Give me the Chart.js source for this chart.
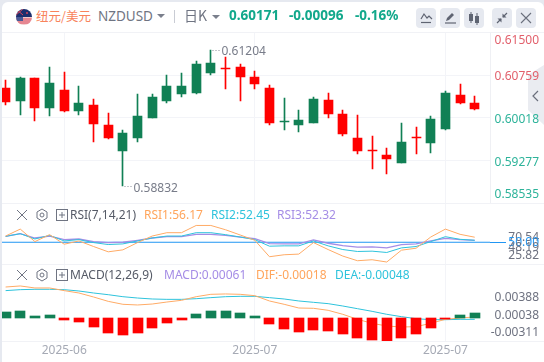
<!DOCTYPE html>
<html><head><meta charset="utf-8">
<script src="https://cdn.jsdelivr.net/npm/chart.js@4"></script>
<style>
html,body{margin:0;padding:0;width:544px;height:362px;overflow:hidden;background:#e6e9f0;font-family:"Noto Sans","Noto Sans CJK SC",sans-serif}
#panel{position:absolute;left:2px;top:2px;width:542px;height:360px;background:#fff;border-radius:6px 6px 0 0}
canvas{position:absolute;left:2px}
.t{position:absolute;white-space:nowrap;line-height:16px;font-size:12px}
.hl{position:absolute;left:2px;height:1px;background:#f1f2f6}
.btn{position:absolute;top:8px;width:20px;height:20px;background:#e6e9f0;border-radius:4px}
.btn svg,.ic{position:absolute;left:0;top:0}
</style></head><body>
<div id="panel"></div>
<svg style="position:absolute;left:528px;top:65px" width="16" height="60"><path d="M16 0L0 10V45L16 60z" fill="#eaecf1"/><path d="M10 26l-5 5 5 5" fill="none" stroke="#6a6f7c" stroke-width="1.2"/></svg>
<canvas id="cMain" width="537" height="172" style="top:32px;width:537px;height:172px"></canvas>
<canvas id="cRsi" width="537" height="60" style="top:204px;width:537px;height:60px"></canvas>
<canvas id="cMacd" width="537" height="98" style="top:264px;width:537px;height:98px"></canvas>
<div class="hl" style="top:32px;width:542px"></div>
<div class="hl" style="top:203px;width:542px"></div>
<div class="hl" style="top:264px;width:542px"></div>
<div class="hl" style="top:341px;width:542px"></div>

<svg style="position:absolute;left:15px;top:8px" width="18" height="18" viewBox="0 0 18 18">
<clipPath id="cp"><circle cx="9" cy="9" r="8"/></clipPath>
<g clip-path="url(#cp)"><rect width="18" height="9" fill="#1c2f6e"/><rect y="9" width="18" height="9" fill="#f3c9c9"/>
<path d="M1 11h16M1 13h16M1 15h16" stroke="#d9455a" stroke-width="1"/><rect y="9" width="8" height="4" fill="#4a5a96"/>
<circle cx="12" cy="5" r="1" fill="#d9455a"/><path d="M1 1l7 6M8 1L1 7" stroke="#d9455a" stroke-width="1"/></g></svg>
<div class="t" style="left:36px;top:8px;font-size:12.5px;color:#f8835c;font-family:'Noto Sans CJK SC'">纽元/美元</div>
<div class="t" style="left:98px;top:8px;font-size:13.5px;color:#6f7482">NZDUSD</div>
<svg style="position:absolute;left:157px;top:14px" width="8" height="5"><path d="M0 0h8L4 4z" fill="#7a7f8c"/></svg>
<div style="position:absolute;left:174px;top:10px;width:1px;height:13px;background:#c9ccd4"></div>
<div class="t" style="left:184px;top:7px;font-size:14px;color:#6f7482;font-family:'Noto Sans CJK SC'">日K</div>
<svg style="position:absolute;left:212px;top:15px" width="8" height="5"><path d="M0 0h8L4 4z" fill="#7a7f8c"/></svg>
<div class="t" style="left:229px;top:7px;font-size:13.5px;font-weight:700;color:#12a88b">0.60171</div>
<div class="t" style="left:289px;top:7px;font-size:13.5px;font-weight:700;color:#12a88b">-0.00096</div>
<div class="t" style="left:355px;top:7px;font-size:13.5px;font-weight:700;color:#12a88b">-0.16%</div>

<div class="btn" style="left:416px"><svg width="20" height="20" fill="none" stroke="#5f6472"><path d="M5 11l3-5 3 4 2-2 3 3" stroke-width="1.2"/><path d="M5 14.5h10" stroke-width="1.2"/></svg></div>
<div class="btn" style="left:440px"><svg width="20" height="20"><path d="M6 13l1-3 5-5 2 2-5 5z" fill="#5f6472"/><path d="M5 15h11" stroke="#5f6472" stroke-width="1.2"/></svg></div>
<div class="btn" style="left:464px"><svg width="20" height="20" fill="#5f6472"><rect x="5" y="6" width="4" height="7"/><rect x="11" y="8" width="4" height="7"/><path d="M7 4v11M13 5v12" stroke="#5f6472"/></svg></div>
<div class="btn" style="left:492px"><svg width="20" height="20" fill="#5f6472"><path d="M11 9l4-4M9 11l-4 4" stroke="#5f6472" stroke-width="1.2"/><path d="M10.5 5.5v4h4zM9.5 14.5v-4h-4z"/></svg></div>
<div class="btn" style="left:516px"><svg width="20" height="20"><path d="M5 5l10 10M15 5L5 15" stroke="#6a6f7c" stroke-width="1.1"/></svg></div>

<svg class="ic" style="position:absolute;left:16px;top:208px" width="54" height="14" fill="none" stroke="#6f7482"><path d="M1 2l10 10M11 2L1 12" stroke-width="1"/><path d="M26 1l5 3v6l-5 3-5-3V4z"/><circle cx="26" cy="7" r="2"/><rect x="40.5" y="1.5" width="11" height="11"/><path d="M46 4v6M43 7h6"/></svg>
<div class="t" style="left:70px;top:207px;color:#555a66">RSI(7,14,21)</div>
<div class="t" style="left:144px;top:207px;color:#ffa55c">RSI1:56.17</div>
<div class="t" style="left:211px;top:207px;color:#2ec3dc">RSI2:52.45</div>
<div class="t" style="left:277px;top:207px;color:#a58de6">RSI3:52.32</div>

<svg class="ic" style="position:absolute;left:16px;top:268px" width="54" height="14" fill="none" stroke="#6f7482"><path d="M1 2l10 10M11 2L1 12" stroke-width="1"/><path d="M26 1l5 3v6l-5 3-5-3V4z"/><circle cx="26" cy="7" r="2"/><rect x="40.5" y="1.5" width="11" height="11"/><path d="M46 4v6M43 7h6"/></svg>
<div class="t" style="left:70px;top:267px;color:#555a66">MACD(12,26,9)</div>
<div class="t" style="left:164px;top:267px;color:#a58de6">MACD:0.00061</div>
<div class="t" style="left:256px;top:267px;color:#ffa55c">DIF:-0.00018</div>
<div class="t" style="left:335px;top:267px;color:#2ec3dc">DEA:-0.00048</div>

<script>
const opens =[.60537,.60311,.60710,.60190,.60502,.60138,.60242,.59895,.59443,.59669,.60016,.60311,.60433,.60450,.60797,.60884,.60901,.60728,.60537,.59941,.59895,.59929,.60328,.60086,.59669,.59460,.59374,.59235,.59694,.59582,.59825,.60415,.60276];
const closes=[.60294,.60710,.60190,.60624,.60138,.60276,.59912,.59669,.59756,.60051,.60381,.60571,.60571,.60953,.60971,.60867,.60728,.60606,.59929,.59964,.59981,.60346,.60086,.59738,.59443,.59443,.59305,.59600,.59677,.59999,.60450,.60276,.60171];
const highs =[.60676,.60728,.60710,.60901,.60814,.60571,.60346,.60103,.59808,.60433,.60433,.60762,.60797,.61005,.61204,.61075,.60953,.60832,.60589,.60363,.60155,.60381,.60450,.60155,.60068,.59704,.59495,.59929,.59860,.60051,.60485,.60606,.60398];
const lows  =[.60242,.60068,.59969,.60051,.60120,.60068,.59600,.59652,.58832,.59600,.60016,.60276,.60381,.60433,.60762,.60519,.60311,.60519,.59895,.59808,.59773,.59929,.60016,.59704,.59391,.59131,.59044,.59235,.59391,.59409,.59808,.60259,.60155];
const rsi1=[57.6,66.1,50.8,59.3,47.6,51.6,44.8,38.3,40.7,49.6,57.6,61.7,61.7,70.54,70.54,65.3,58.9,52.4,32.3,34.7,35.5,49.6,41.1,33.1,27.4,28.6,25.82,40.3,42.7,56.4,66.1,59.7,56.17];
const rsi2=[57.2,60.5,54,58.4,51.6,53.2,49.6,47.2,48,51.6,55.2,57.6,57.6,61.7,61.7,59.3,56.4,53.2,45.2,45.6,45.6,51.6,45.6,41.1,38.7,39.1,37.5,43.1,44.8,50.8,56.8,53.6,52.45];
const rsi3=[57.2,60.5,55.2,57.6,53.2,54,50.8,49.6,50,52.4,55.2,56.8,56.8,59.7,59.7,58.5,56.4,54.4,48.4,48,48,52.8,48.8,46,44,44.4,43.1,47.2,48,51.6,54.8,53.2,52.32];
const rsiLevel=50;
const macdBars=[.00081,.00095,.00027,.00041,-.00027,-.00054,-.00122,-.00203,-.0023,-.00203,-.00135,-.00068,-.00027,.00054,.00095,.00095,.00068,.00027,-.00081,-.00149,-.00189,-.00162,-.00176,-.00216,-.0027,-.00297,-.00311,-.0027,-.00216,-.00135,-.00014,.00041,.00068];
const dif=[.00419,.00433,.00406,.00406,.0037,.00338,.00284,.00225,.00185,.00176,.00189,.00216,.00239,.00288,.0032,.00325,.0032,.00302,.0023,.00185,.00135,.00131,.00104,.0005,-.00018,-.00072,-.00108,-.00122,-.00117,-.00072,-.00018,0,.00014];
const dea=[.0037,.00383,.00388,.00388,.00383,.00365,.00338,.00315,.00288,.0027,.00257,.00252,.00252,.00261,.00275,.00288,.00293,.00293,.00275,.00257,.0023,.00212,.00194,.00162,.00126,.0009,.0005,.00018,-.00009,-.00023,-.00023,-.00018,-.00018];
const mainTicks=[.615,.60759,.60018,.59277,.58535];
const rsiTicks=[70.54,50,48.19,25.82];
const macdTicks=[.00388,.00038,-.00311];
const dateIndexes=[4,17,30];
const dateLabels=['2025-06','2025-07','2025-07'];

const UP='#118055',DOWN='#ff0000',GRID='#f3f4f8';
const XMIN=-0.2456,XMAX=33.042;
const FONT='"Noto Sans",sans-serif';
const idx=opens.map((_,i)=>i);
Chart.defaults.font.family=FONT;

function snapBars(oddWidth){return{id:'snap',afterDatasetsUpdate(c){
  c.data.datasets.forEach((d,i)=>{
    const m=c.getDatasetMeta(i);if(m.type!=='bar')return;
    m.data.forEach(el=>{el.x=oddWidth?Math.floor(el.x)+.5:Math.round(el.x);
      let y=Math.round(el.y),b=Math.round(el.base);if(y===b)b=y+1;el.y=y;el.base=b;el.height=b-y;});
  });}};}
function shiftLabels(shifts){return{id:'shift',beforeDraw(c){
  c.scales.y.getLabelItems().forEach((it,i)=>{if(!it._s){it.options.translation[1]+=shifts[i];it._s=1;}});}};}
const fitY=s=>{s.width=49;s.paddingTop=0;s.paddingBottom=0;};
const noPadX=(s,h)=>{s.height=h;s.paddingLeft=0;s.paddingRight=0;};
const xAxis=(extra)=>Object.assign({type:'linear',min:XMIN,max:XMAX,offset:false,
  afterBuildTicks:s=>{s.ticks=dateIndexes.map(v=>({value:v}));},
  grid:{color:GRID,drawTicks:false,offset:false},border:{display:false},
  ticks:{display:false},afterFit:s=>noPadX(s,0)},extra||{});
const base={responsive:false,animation:false,devicePixelRatio:1,plugins:{legend:{display:false},tooltip:{enabled:false}}};

const extremes={id:'extremes',afterDatasetsDraw(c){
  const ctx=c.ctx,x=c.scales.x,y=c.scales.y;
  const hi=highs.indexOf(Math.max(...highs)),lo=lows.indexOf(Math.min(...lows));
  [[hi,highs[hi],2],[lo,lows[lo],2]].forEach(([i,v,dy])=>{
    const px=Math.floor(x.getPixelForValue(i))+.5,py=y.getPixelForValue(v);
    ctx.save();ctx.strokeStyle='#8a8e9a';ctx.setLineDash([1,2]);ctx.beginPath();
    ctx.moveTo(px+2,Math.round(py)+.5);ctx.lineTo(px+10,Math.round(py)+.5);ctx.stroke();ctx.setLineDash([]);
    ctx.fillStyle='#787c89';ctx.font='12px '+FONT;ctx.textBaseline='middle';ctx.textAlign='left';
    ctx.fillText(v.toFixed(5),px+11,py+dy);ctx.restore();});
}};

new Chart(document.getElementById('cMain'),{type:'bar',
 data:{datasets:[
  {data:idx.map(i=>({x:i,y:[lows[i],highs[i]]})),barThickness:1,grouped:false,backgroundColor:idx.map(i=>closes[i]>opens[i]?UP:DOWN)},
  {data:idx.map(i=>({x:i,y:[opens[i],closes[i]]})),barThickness:9,grouped:false,backgroundColor:idx.map(i=>closes[i]>opens[i]?UP:DOWN)}
 ]},
 options:{...base,layout:{autoPadding:false,padding:{top:.5,bottom:.7,left:0,right:0}},scales:{x:xAxis(),
  y:{position:'right',min:.58535,max:.615,afterFit:fitY,
   afterBuildTicks:s=>{s.ticks=mainTicks.map(v=>({value:v}));},
   grid:{color:GRID,drawTicks:false},border:{color:'#eff0f4'},
   ticks:{autoSkip:false,padding:4,crossAlign:'far',font:{size:12},callback:v=>v.toFixed(5),
    color:c=>c.tick.value>.604?'#e2606c':'#2db39a'}}}},
 plugins:[snapBars(true),shiftLabels([8,1,2,2,-9]),extremes]});

const lineDs=(vals,color,w)=>({type:'line',data:idx.map(i=>({x:i,y:vals[i]})),borderColor:color,borderWidth:w,pointRadius:0,tension:0,fill:false});
new Chart(document.getElementById('cRsi'),{type:'line',
 data:{datasets:[
  lineDs(rsi1,'#ffab66',1),lineDs(rsi2,'#2ec3dc',1),lineDs(rsi3,'#a58de6',1.3),
  {data:[{x:XMIN,y:rsiLevel},{x:XMAX,y:rsiLevel}],borderColor:'#2196f3',borderWidth:1,pointRadius:0}
 ]},
 options:{...base,layout:{autoPadding:false,padding:0},scales:{x:xAxis(),
  y:{position:'right',min:23.4,max:96.8,afterFit:fitY,
   afterBuildTicks:s=>{s.ticks=rsiTicks.map(v=>({value:v}));},
   grid:{drawOnChartArea:false,drawTicks:true,tickLength:16,tickColor:c=>c.tick.value===rsiLevel?'#2196f3':'rgba(0,0,0,0)'},border:{display:false},
   ticks:{autoSkip:false,padding:1,crossAlign:'far',font:{size:12},callback:v=>v.toFixed(2),
    color:c=>c.tick.value===rsiLevel?'#2196f3':'#6e7280'}}}},
 plugins:[shiftLabels([11.7,0,4,-6])]});

new Chart(document.getElementById('cMacd'),{type:'bar',
 data:{datasets:[
  {type:'bar',data:idx.map(i=>({x:i,y:macdBars[i]})),barThickness:10,backgroundColor:macdBars.map(v=>v>=0?UP:DOWN)},
  lineDs(dif,'#ffab66',1),lineDs(dea,'#2ec3dc',1)
 ]},
 options:{...base,layout:{autoPadding:false,padding:0},scales:{
  x:xAxis({ticks:{display:true,autoSkip:false,maxRotation:0,padding:2,color:'#a6aab5',font:{size:12},
    callback:v=>dateLabels[dateIndexes.indexOf(v)]||''},afterFit:s=>noPadX(s,21)}),
  y:{position:'right',min:-.00311,max:.0073,afterFit:fitY,
   afterBuildTicks:s=>{s.ticks=macdTicks.map(v=>({value:v}));},
   grid:{display:false},border:{display:false},
   ticks:{autoSkip:false,padding:0,crossAlign:'far',font:{size:12},callback:v=>v.toFixed(5),color:'#6e7280'}}}},
 plugins:[snapBars(false),shiftLabels([8.4,0,-8.3])]});
</script>
</body></html>
